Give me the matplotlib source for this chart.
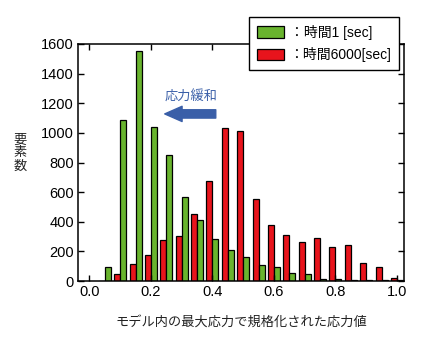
import numpy as np
import matplotlib
matplotlib.use('Agg')
import matplotlib.pyplot as plt

plt.rcParams['font.family'] = ['Liberation Sans', 'Noto Sans CJK JP']

# normalised stress bins (pair centres) and element counts per bin
bin_centers = [0.05, 0.10, 0.15, 0.20, 0.25, 0.30, 0.35, 0.40, 0.45, 0.50,
               0.55, 0.60, 0.65, 0.70, 0.75, 0.80, 0.85, 0.90, 0.95, 1.00]
count_t6000 = [3, 50, 113, 175, 275, 307, 455, 675, 1030, 1010,
               553, 375, 308, 263, 288, 228, 240, 119, 92, 20]
count_t1 = [93, 1085, 1550, 1040, 850, 565, 415, 285, 207, 160,
            106, 92, 52, 45, 13, 13, 4, 4, 4, 6]

label_t1 = '：時間1 [sec]'
label_t6000 = '：時間6000[sec]'
xticks = [0.0, 0.2, 0.4, 0.6, 0.8, 1.0]
yticks = [0, 200, 400, 600, 800, 1000, 1200, 1400, 1600]

GREEN = '#69b42e'
RED = '#e8141c'
BLUE = '#3a5fa8'

fig = plt.figure(figsize=(4.3, 3.4), dpi=100)
ax = fig.add_axes([0.1814, 0.1735, 0.7581, 0.6971])

x = np.array(bin_centers)
w = 0.0195
b_red = ax.bar(x - w / 2, count_t6000, width=w, color=RED,
               edgecolor='black', linewidth=0.9)
b_green = ax.bar(x + w / 2, count_t1, width=w, color=GREEN,
                 edgecolor='black', linewidth=0.9)

ax.set_xlim(-0.037, 1.023)
ax.set_ylim(0, 1600)
ax.set_xticks(xticks)
ax.set_xticklabels([f'{v:.1f}' for v in xticks])
ax.set_yticks(yticks)
ax.tick_params(direction='in', length=4, width=1.0, top=True, right=True,
               labelsize=10.5, pad=3, colors='black')
for sp in ax.spines.values():
    sp.set_linewidth(1.1)

# stress relaxation arrow
ax.annotate('', xy=(0.245, 1128), xytext=(0.411, 1128),
            arrowprops=dict(arrowstyle='simple,head_length=1.25,head_width=1.1,tail_width=0.6',
                            color=BLUE, mutation_scale=10, shrinkA=0, shrinkB=0))
ax.text(0.332, 1243, '応力緩和', color=BLUE, fontsize=9.5,
        ha='center', va='center', family=['Noto Sans CJK JP'])

ax.set_xlabel('モデル内の最大応力で規格化された応力値', fontsize=9.5,
              color='#222222', labelpad=12, family=['Noto Sans CJK JP'])
fig.text(0.047, 0.55, '要\n素\n数', fontsize=9.5, color='#222222',
         ha='center', va='center', linespacing=1.0, family=['Noto Sans CJK JP'])

leg = fig.legend([b_green, b_red], [label_t1, label_t6000],
                 loc='upper right', bbox_to_anchor=(0.928, 0.95),
                 borderaxespad=0, fontsize=10, fancybox=False, framealpha=1,
                 edgecolor='black', handlelength=1.95, handleheight=0.95,
                 handletextpad=0.4, borderpad=0.55, labelspacing=0.55)
leg.get_frame().set_linewidth(1.0)
for h in leg.legend_handles:
    h.set_edgecolor('black')
    h.set_linewidth(0.9)

fig.savefig('out.png', dpi=100)
